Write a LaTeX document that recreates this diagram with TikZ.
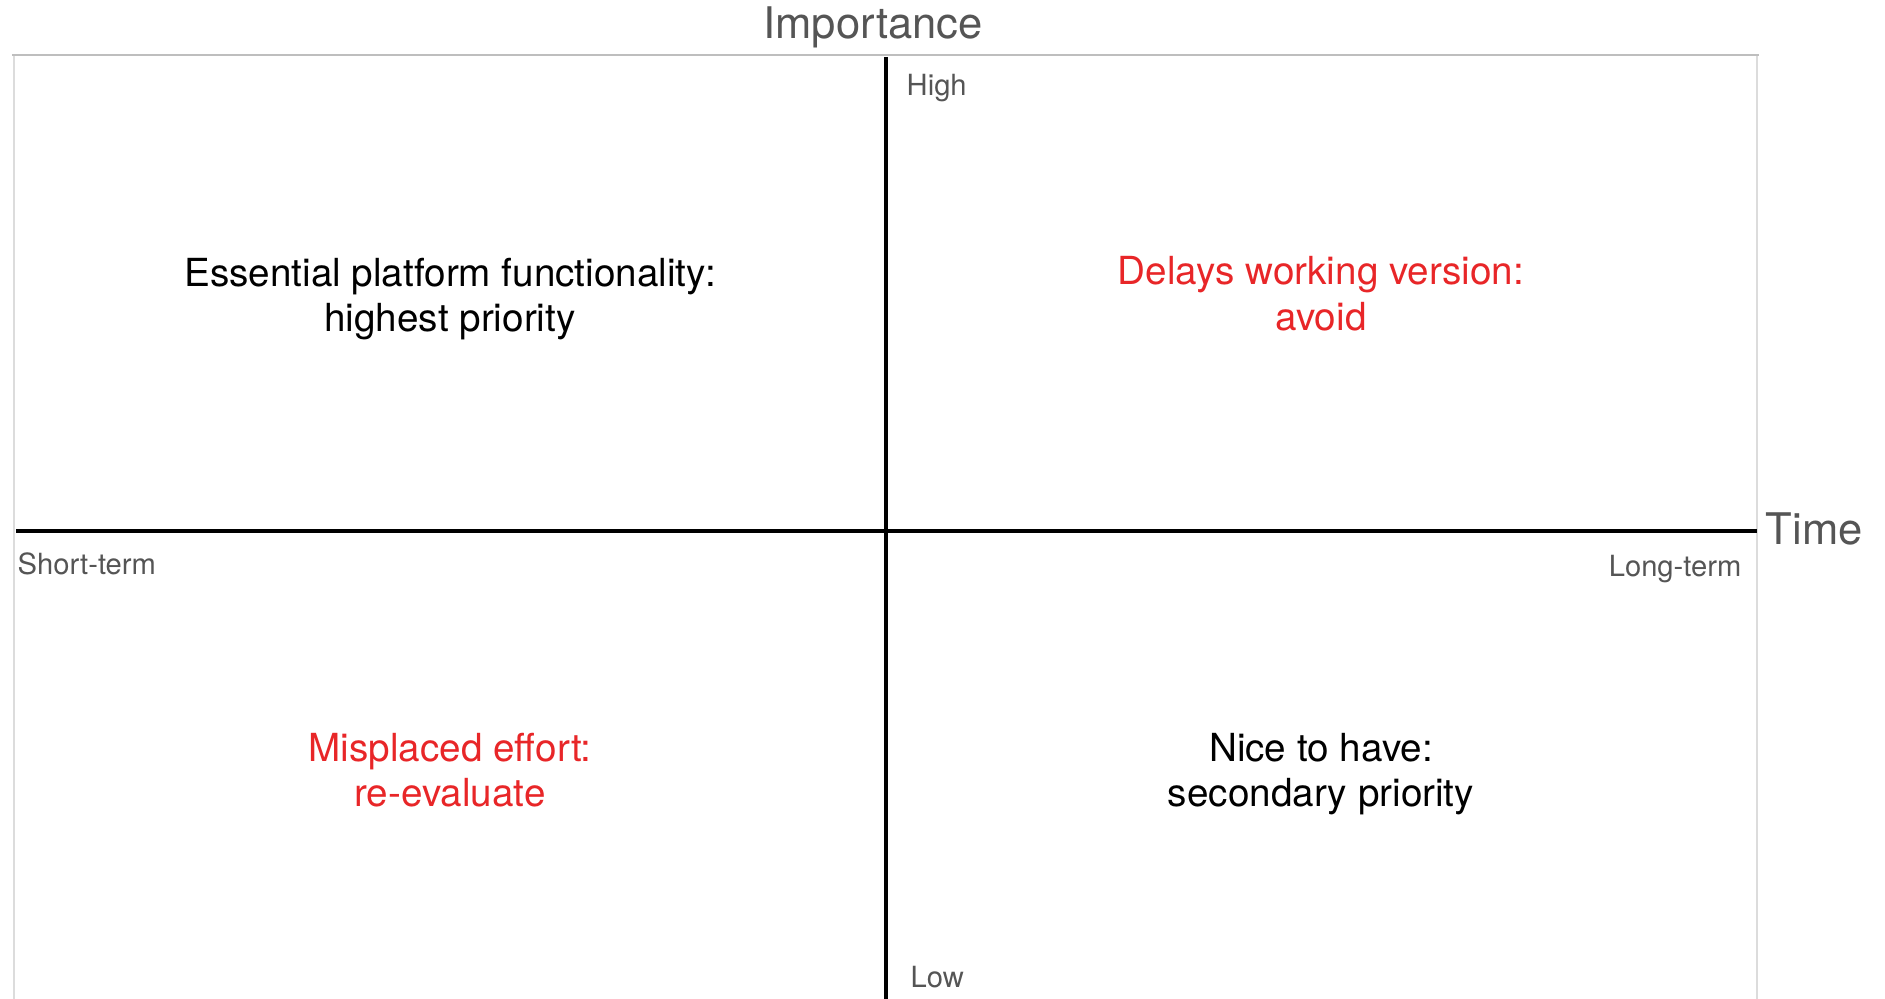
\documentclass[tikz,border=0pt]{standalone}
\usepackage{fontspec}
\setmainfont{TeX Gyre Heros}
\usepackage{xcolor}
\definecolor{alertred}{RGB}{232,38,40}
\definecolor{labelgray}{RGB}{85,85,85}
\definecolor{framegray}{RGB}{190,190,190}
\definecolor{sidegray}{RGB}{220,220,220}

\tikzset{
  quadtext/.style={align=center, font=\fontsize{11}{13}\selectfont},
  axistitle/.style={text=labelgray, inner sep=0pt, font=\fontsize{12.4}{14}\selectfont},
  endlabel/.style={text=labelgray, inner sep=0pt, font=\fontsize{8.3}{10}\selectfont}
}

\begin{document}
\begin{tikzpicture}
\useasboundingbox (0,0) rectangle (18.85,9.99);

\draw[sidegray, line width=0.4pt] (0.14,0) -- (0.14,9.44);
\draw[sidegray, line width=0.4pt] (17.57,0) -- (17.57,9.44);
\draw[framegray, line width=0.6pt] (0.12,9.44) -- (17.59,9.44);

\coordinate (west) at (0.16,4.68);
\coordinate (east) at (17.57,4.68);
\coordinate (top) at (8.86,9.42);
\coordinate (bottom) at (8.86,0);
\draw[line width=1.2pt] (west) -- (east);
\draw[line width=1.2pt] (top) -- (bottom);

\node[axistitle, anchor=base] (importance) at (8.73,9.60) {Importance};
\node[axistitle, anchor=base west] (time) at (17.65,4.54) {Time};

\node[endlabel, anchor=base west] (high) at (9.06,9.03) {High};
\node[endlabel, anchor=base west] (low) at (9.10,0.11) {Low};
\node[endlabel, anchor=base west] (short) at (0.17,4.24) {Short-term};
\node[endlabel, anchor=base east] (long) at (17.42,4.22) {Long-term};

\node[quadtext] (essential) at (4.50,7.00) {Essential platform functionality:\\highest priority};
\node[quadtext, text=alertred] (delays) at (13.21,7.05) {Delays working version:\\avoid};
\node[quadtext, text=alertred] (misplaced) at (4.50,2.29) {Misplaced effort:\\re-evaluate};
\node[quadtext] (nice) at (13.21,2.25) {Nice to have:\\secondary priority};
\end{tikzpicture}
\end{document}
